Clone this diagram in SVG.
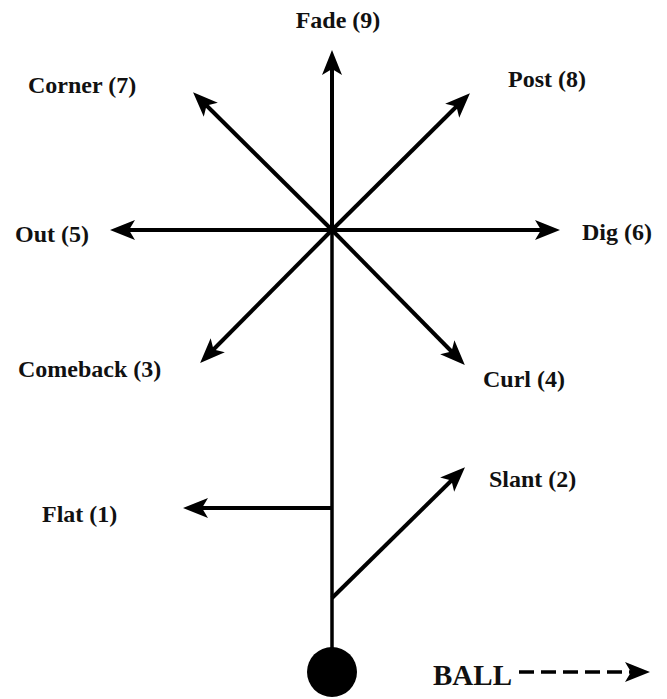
<svg xmlns="http://www.w3.org/2000/svg" width="667" height="699" viewBox="0 0 667 699">
  <defs>
    <!-- barbed arrowhead; the line stops 10 units inside the head -->
    <marker id="head" markerUnits="userSpaceOnUse" viewBox="-2 -12 30 24" refX="11" refY="0" markerWidth="30" markerHeight="24" orient="auto" overflow="visible">
      <path d="M0,-10 L25,0 L0,10 L6,0 Z" fill="#000"/>
    </marker>
  </defs>
  <style>
    .route { stroke: #000; stroke-width: 4; fill: none; marker-end: url(#head); }
    .stem { stroke: #000; stroke-width: 3.5; fill: none; }
    .dash { stroke: #000; stroke-width: 3.5; fill: none; stroke-dasharray: 15 7; marker-end: url(#head); }
    .lbl { font-family: "Liberation Serif", "Times New Roman", serif; font-weight: bold; font-size: 24px; fill: #111; }
    .ball { font-family: "Liberation Serif", "Times New Roman", serif; font-weight: bold; font-size: 29px; fill: #111; }
  </style>
  <rect width="667" height="699" fill="#fff"/>

  <g id="connectors">
    <!-- receiver stem from the ball up through the break point -->
    <line class="stem" x1="332" y1="648" x2="332" y2="230"/>
    <line id="fade" class="route" x1="332" y1="232" x2="332" y2="64"/>
    <line id="corner" class="route" x1="332" y1="230" x2="203" y2="102"/>
    <line id="post" class="route" x1="332" y1="230" x2="460" y2="103"/>
    <line id="out" class="route" x1="332" y1="230" x2="124" y2="230"/>
    <line id="dig" class="route" x1="332" y1="230" x2="546" y2="230"/>
    <line id="comeback" class="route" x1="332" y1="230" x2="210" y2="353"/>
    <line id="curl" class="route" x1="332" y1="230" x2="455" y2="355"/>
    <line id="flat" class="route" x1="332" y1="508" x2="197" y2="508"/>
    <line id="slant" class="route" x1="332" y1="598" x2="455" y2="477"/>
    <line id="ball-direction" class="dash" x1="519" y1="672" x2="636" y2="672"/>
    <circle cx="332" cy="230" r="4.5" fill="#000"/>
  </g>

  <g id="receiver"><circle cx="332" cy="672" r="25" fill="#000"/></g>

  <g id="label-fade"><text class="lbl" x="338" y="28" text-anchor="middle">Fade (9)</text></g>
  <g id="label-corner"><text class="lbl" x="28" y="93">Corner (7)</text></g>
  <g id="label-post"><text class="lbl" x="508" y="87">Post (8)</text></g>
  <g id="label-out"><text class="lbl" x="15" y="242">Out (5)</text></g>
  <g id="label-dig"><text class="lbl" x="582" y="240">Dig (6)</text></g>
  <g id="label-comeback"><text class="lbl" x="18" y="377">Comeback (3)</text></g>
  <g id="label-curl"><text class="lbl" x="483" y="387">Curl (4)</text></g>
  <g id="label-slant"><text class="lbl" x="489" y="487">Slant (2)</text></g>
  <g id="label-flat"><text class="lbl" x="42" y="522">Flat (1)</text></g>
  <g id="label-ball"><text class="ball" x="433" y="685">BALL</text></g>
</svg>
